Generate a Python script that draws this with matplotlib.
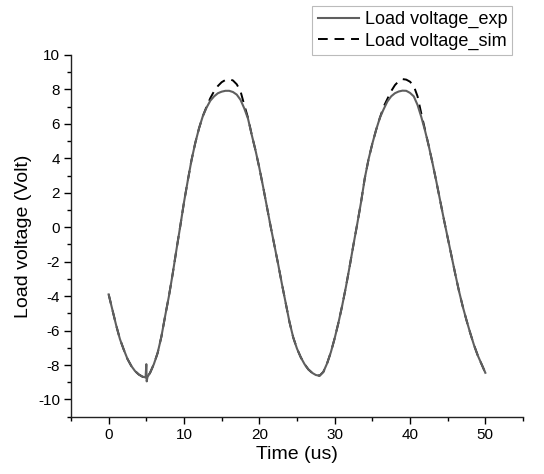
import matplotlib
matplotlib.use("Agg")
import matplotlib.pyplot as plt
from matplotlib.ticker import MultipleLocator

plt.rcParams['font.family'] = ['Liberation Sans', 'DejaVu Sans']
plt.rcParams['axes.unicode_minus'] = False

# Time axis (us)
time_us = [
    0.0, 0.5, 1.0, 1.5, 2.0, 2.5, 3.0, 3.5, 4.0, 4.5,
    4.9, 5.0, 5.05, 5.15, 5.5, 6.0, 6.5, 7.0, 7.5, 8.0, 8.5, 9.0, 9.5,
    10.0, 10.5, 11.0, 11.5, 12.0, 12.5, 13.0, 13.5, 14.0, 14.5,
    15.0, 15.5, 16.0, 16.5, 17.0, 17.5, 18.0, 18.5, 19.0, 19.5,
    20.0, 20.5, 21.0, 21.5, 22.0, 22.5, 23.0, 23.5, 24.0, 24.5,
    25.0, 25.5, 26.0, 26.5, 27.0, 27.5, 28.0, 28.5, 29.0, 29.5,
    30.0, 30.5, 31.0, 31.5, 32.0, 32.5, 33.0, 33.5, 34.0, 34.5,
    35.0, 35.5, 36.0, 36.5, 37.0, 37.5, 38.0, 38.5, 39.0, 39.5,
    40.0, 40.5, 41.0, 41.5, 42.0, 42.5, 43.0, 43.5, 44.0, 44.5,
    45.0, 45.5, 46.0, 46.5, 47.0, 47.5, 48.0, 48.5, 49.0, 49.5, 50.0,
]

# Experimental load voltage (V)
load_voltage_exp = [
    -3.9, -4.8, -5.7, -6.5, -7.1, -7.65, -8.05, -8.35, -8.55, -8.68,
    -8.72, -7.95, -8.95, -8.7, -8.45, -7.95, -7.3, -6.35, -5.15, -4.0, -2.7, -1.3, 0.05,
    1.45, 2.7, 3.9, 4.9, 5.75, 6.45, 6.95, 7.35, 7.6, 7.78,
    7.87, 7.92, 7.92, 7.85, 7.7, 7.4, 6.9, 6.3, 5.35, 4.45,
    3.45, 2.35, 1.2, 0.05, -1.05, -2.15, -3.3, -4.4, -5.5, -6.4,
    -7.05, -7.55, -7.95, -8.25, -8.45, -8.58, -8.62, -8.4, -7.9, -7.25,
    -6.45, -5.55, -4.55, -3.45, -2.25, -1.0, 0.2, 1.45, 2.85, 3.95,
    4.85, 5.65, 6.35, 6.85, 7.3, 7.6, 7.78, 7.88, 7.93, 7.92,
    7.8, 7.6, 7.1, 6.4, 5.6, 4.7, 3.7, 2.65, 1.55, 0.45,
    -0.6, -1.65, -2.7, -3.7, -4.6, -5.4, -6.15, -6.85, -7.45, -7.95, -8.45,
]

# Simulated load voltage (V)
load_voltage_sim = [
    -3.9, -4.8, -5.7, -6.5, -7.1, -7.65, -8.05, -8.35, -8.55, -8.68,
    -8.72, -8.72, -8.71, -8.68, -8.45, -7.95, -7.3, -6.35, -5.15, -4.0, -2.7, -1.3, 0.05,
    1.45, 2.7, 3.9, 4.9, 5.75, 6.45, 7.0, 7.5, 7.9, 8.2,
    8.42, 8.55, 8.6, 8.52, 8.3, 7.9, 7.1, 6.35, 5.35, 4.45,
    3.45, 2.35, 1.2, 0.05, -1.05, -2.15, -3.3, -4.4, -5.5, -6.4,
    -7.05, -7.55, -7.95, -8.25, -8.45, -8.58, -8.62, -8.4, -7.9, -7.25,
    -6.45, -5.55, -4.55, -3.45, -2.25, -1.0, 0.2, 1.45, 2.85, 3.95,
    4.85, 5.65, 6.35, 7.0, 7.45, 7.9, 8.25, 8.48, 8.6, 8.57,
    8.45, 8.2, 7.6, 6.6, 5.65, 4.7, 3.7, 2.65, 1.55, 0.45,
    -0.6, -1.65, -2.7, -3.7, -4.6, -5.4, -6.15, -6.85, -7.45, -7.95, -8.45,
]

x_ticks = [0, 10, 20, 30, 40, 50]
y_ticks = [10, 8, 6, 4, 2, 0, -2, -4, -6, -8, -10]

fig = plt.figure(figsize=(5.44, 4.74), dpi=100)
ax = fig.add_axes([0.1305, 0.1209, 0.8309, 0.7631])

ax.plot(time_us, load_voltage_sim, color='black', lw=1.4,
        dashes=(5, 3.5), label='Load voltage_sim', zorder=2)
ax.plot(time_us, load_voltage_exp, color='#5f5f5f', lw=1.5,
        label='Load voltage_exp', zorder=3)

ax.set_xlim(-5, 55)
ax.set_ylim(-11, 10)
ax.set_xticks(x_ticks)
ax.set_yticks(y_ticks)
ax.xaxis.set_minor_locator(MultipleLocator(5))
ax.yaxis.set_minor_locator(MultipleLocator(1))
ax.tick_params(which='major', direction='out', length=5, width=1,
               labelsize=11, colors='black', pad=3)
ax.tick_params(which='minor', direction='out', length=3, width=1)

for s in ['top', 'right']:
    ax.spines[s].set_visible(False)
for s in ['left', 'bottom']:
    ax.spines[s].set_linewidth(1.0)
    ax.spines[s].set_color('#222222')

ax.set_xlabel('Time (us)', fontsize=14, labelpad=3)
ax.set_ylabel('Load voltage (Volt)', fontsize=14, labelpad=4)

handles, labels = ax.get_legend_handles_labels()
order = [1, 0]
leg = fig.legend([handles[i] for i in order], [labels[i] for i in order],
                 loc='upper right', bbox_to_anchor=(0.942, 0.988),
                 fontsize=13, frameon=True, fancybox=False,
                 handlelength=2.3, handletextpad=0.3, borderpad=0.3,
                 labelspacing=0.25, borderaxespad=0.0)
leg.get_frame().set_edgecolor('#aaaaaa')
leg.get_frame().set_linewidth(0.8)

fig.savefig('out.png', dpi=100)
